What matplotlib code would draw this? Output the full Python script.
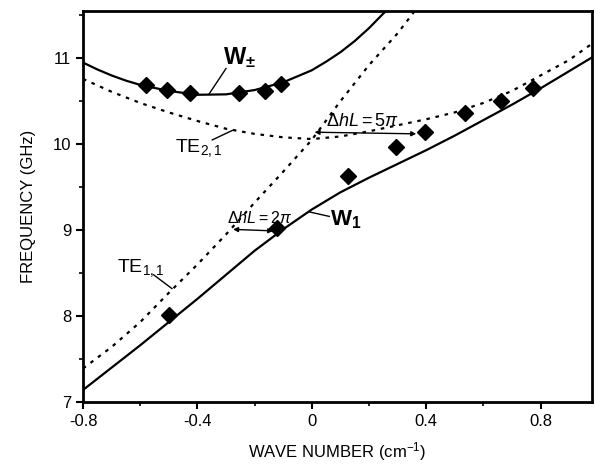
import numpy as np
import matplotlib.pyplot as plt

plt.rcParams['font.family'] = ['Liberation Sans', 'DejaVu Sans']
plt.rcParams['mathtext.fontset'] = 'custom'
plt.rcParams['mathtext.rm'] = 'Liberation Sans'
plt.rcParams['mathtext.it'] = 'Liberation Sans:italic'
plt.rcParams['mathtext.bf'] = 'Liberation Sans:bold'

# theory curves
k_wpm = [-0.8, -0.75, -0.7, -0.65, -0.6, -0.5, -0.4, -0.3, -0.2, -0.1, -0.05, 0.0,
         0.05, 0.1, 0.15, 0.2, 0.25, 0.26]
f_wpm = [10.95, 10.87, 10.80, 10.74, 10.69, 10.62, 10.575, 10.58, 10.63, 10.72, 10.79,
         10.86, 10.96, 11.07, 11.20, 11.35, 11.52, 11.55]

k_w1 = [-0.8, -0.7, -0.6, -0.5, -0.4, -0.3, -0.2, -0.1, 0.0, 0.1, 0.2, 0.3, 0.4,
        0.5, 0.6, 0.7, 0.8, 0.9, 0.98]
f_w1 = [7.14, 7.40, 7.66, 7.93, 8.20, 8.48, 8.76, 9.01, 9.24, 9.44, 9.61, 9.77, 9.93,
        10.10, 10.28, 10.46, 10.65, 10.85, 11.01]

k_te21 = [-0.8, -0.7, -0.6, -0.5, -0.4, -0.3, -0.2, -0.1, 0.0, 0.1, 0.2, 0.3, 0.4,
          0.5, 0.6, 0.7, 0.8, 0.9, 0.98]
f_te21 = [10.76, 10.61, 10.48, 10.37, 10.27, 10.18, 10.12, 10.08, 10.06, 10.09, 10.15,
          10.22, 10.29, 10.37, 10.48, 10.62, 10.80, 10.98, 11.17]

k_te11 = [-0.8, -0.7, -0.6, -0.5, -0.4, -0.3, -0.2, -0.1, 0.0, 0.1, 0.2, 0.3, 0.36]
f_te11 = [7.39, 7.64, 7.93, 8.27, 8.60, 8.95, 9.32, 9.68, 10.05, 10.50, 10.92, 11.29, 11.55]

# measured points
k_meas_pm = [-0.58, -0.505, -0.425, -0.255, -0.165, -0.106]
f_meas_pm = [10.69, 10.63, 10.60, 10.60, 10.62, 10.70]
k_meas_1 = [-0.50, -0.12, 0.125, 0.295, 0.396, 0.537, 0.663, 0.774]
f_meas_1 = [8.01, 9.02, 9.63, 9.97, 10.14, 10.36, 10.50, 10.65]

fig = plt.figure(figsize=(5.95, 4.72), dpi=100)
ax = fig.add_axes([0.1395, 0.1483, 0.8555, 0.8284])

dot = (0, (1.6, 2.6))
ax.plot(k_wpm, f_wpm, 'k-', lw=1.6)
ax.plot(k_w1, f_w1, 'k-', lw=1.6)
ax.plot(k_te21, f_te21, color='k', ls=dot, lw=1.6)
ax.plot(k_te11, f_te11, color='k', ls=dot, lw=1.6)
ax.plot(k_meas_pm, f_meas_pm, 'kD', ms=8.5)
ax.plot(k_meas_1, f_meas_1, 'kD', ms=8.5)

# labels with leader lines
ax.text(-0.31, 10.93, r'$\mathbf{W_{\pm}}$', fontsize=17, ha='left', va='baseline')
ax.plot([-0.30, -0.36], [10.88, 10.58], 'k-', lw=1)

ax.text(0.065, 9.06, r'$\mathbf{W_1}$', fontsize=16, ha='left', va='baseline')
ax.plot([-0.006, 0.061], [9.21, 9.16], 'k-', lw=1)

ax.text(-0.48, 9.91, 'TE$_{2,1}$', fontsize=14, ha='left', va='baseline')
ax.plot([-0.348, -0.278], [10.05, 10.16], 'k-', lw=1)

ax.text(-0.68, 8.51, 'TE$_{1,1}$', fontsize=14, ha='left', va='baseline')
ax.plot([-0.553, -0.489], [8.48, 8.32], 'k-', lw=1)

ax.text(-0.295, 9.08, r'$\Delta hL = 2\pi$', fontsize=11.5, ha='left', va='baseline')
ax.annotate('', xy=(-0.125, 8.99), xytext=(-0.285, 9.01),
            arrowprops=dict(arrowstyle='<|-|>', color='k', lw=1, mutation_scale=7))

ax.text(0.05, 10.21, r'$\Delta hL = 5\pi$', fontsize=13, ha='left', va='baseline')
ax.annotate('', xy=(0.375, 10.12), xytext=(0.0, 10.14),
            arrowprops=dict(arrowstyle='<|-|>', color='k', lw=1, mutation_scale=7))

ax.set_xlim(-0.8, 0.98)
ax.set_ylim(7, 11.55)
ax.set_xticks([-0.8, -0.4, 0, 0.4, 0.8])
ax.set_xticklabels(['-0.8', '-0.4', '0', '0.4', '0.8'])
ax.set_yticks([7, 8, 9, 10, 11])
ax.set_xticks(np.arange(-0.8, 0.81, 0.2), minor=True)
ax.set_yticks(np.arange(7, 11.51, 0.5), minor=True)
ax.tick_params(which='major', direction='out', length=5, width=1.5, labelsize=12)
ax.tick_params(which='minor', direction='out', length=3, width=1.2)
for s in ax.spines.values():
    s.set_linewidth(2)

ax.set_xlabel('WAVE NUMBER (cm$^{-1}$)', fontsize=12, labelpad=8)
ax.set_ylabel('FREQUENCY (GHz)', fontsize=12, labelpad=12)

fig.savefig('out.png', dpi=100)
